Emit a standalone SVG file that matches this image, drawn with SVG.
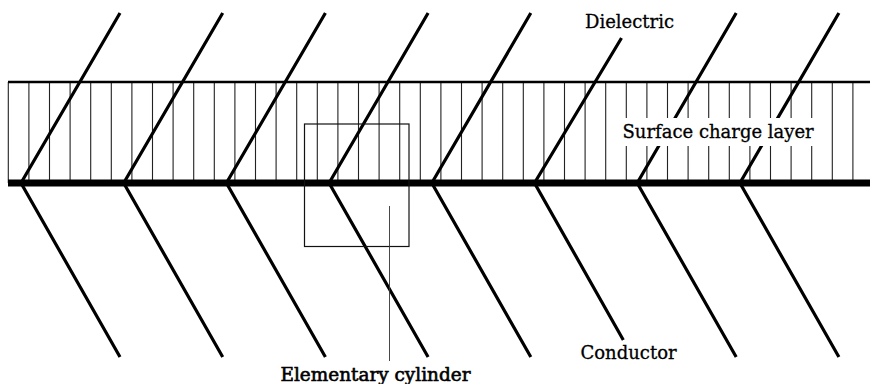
<svg xmlns="http://www.w3.org/2000/svg" width="870" height="384" viewBox="0 0 870 384">
<style>
.hatch{stroke:#222;stroke-width:1.1;fill:none}
.diag{stroke:#000;stroke-width:3.2;fill:none;stroke-linecap:butt}
.lbl{font-family:"DejaVu Serif","Liberation Serif",serif;font-size:18px;fill:#000;stroke:#000;stroke-width:0.3}
.thin{stroke:#111;stroke-width:1.2;fill:none}
</style>
<rect width="870" height="384" fill="#fff"/>
<g id="hatching">
<path class="hatch" d="M8.3 82V183M28.9 82V183M49.5 82V183M70.1 82V183M90.7 82V183M111.3 82V183M131.9 82V183M152.5 82V183M173.1 82V183M193.7 82V183M214.3 82V183M234.9 82V183M255.5 82V183M276.1 82V183M296.7 82V183M317.3 82V183M337.9 82V183M358.5 82V183M379.1 82V183M399.7 82V183M420.3 82V183M440.9 82V183M461.5 82V183M482.1 82V183M502.7 82V183M523.3 82V183M543.9 82V183M564.5 82V183M585.1 82V183M605.7 82V183M626.3 82V183M646.9 82V183M667.5 82V183M688.1 82V183M708.7 82V183M729.3 82V183M749.9 82V183M770.5 82V183M791.1 82V183M811.7 82V183M832.3 82V183M852.9 82V183"/>
</g>
<g id="dielectric-boundary">
<line x1="8" y1="82" x2="870" y2="82" stroke="#000" stroke-width="2.5"/>
</g>
<g id="conductor-surface">
<line x1="8" y1="183" x2="870" y2="183" stroke="#000" stroke-width="7"/>
</g>
<g id="connectors">
<path class="diag" d="M120 13L21 183L120 357"/>
<path class="diag" d="M222.7 13L123.7 183L222.7 357"/>
<path class="diag" d="M325.4 13L226.4 183L325.4 357"/>
<path class="diag" d="M428.1 13L329.1 183L428.1 357"/>
<path class="diag" d="M530.8 13L431.8 183L530.8 357"/>
<path class="diag" d="M621.5 38L534.5 183L623.3 340"/>
<path class="diag" d="M736.2 13L637.2 183L736.2 357"/>
<path class="diag" d="M838.9 13L739.9 183L838.9 357"/>
</g>
<g id="elementary-cylinder">
<rect class="thin" x="304.5" y="124" width="104.5" height="122.5"/>
<line x1="389.5" y1="206" x2="389.5" y2="361" stroke="#333" stroke-width="0.9"/>
</g>
<g id="label-dielectric">
<text class="lbl" x="585" y="28">Dielectric</text>
</g>
<g id="label-surface">
<rect x="618" y="118" width="200" height="28" fill="#fff"/>
<text class="lbl" x="622.5" y="138">Surface charge layer</text>
</g>
<g id="label-conductor">
<text class="lbl" x="580.5" y="359">Conductor</text>
</g>
<g id="label-cylinder">
<text class="lbl" x="280.5" y="380.5" textLength="190" lengthAdjust="spacingAndGlyphs" style="stroke-width:0.6">Elementary cylinder</text>
</g>
</svg>
